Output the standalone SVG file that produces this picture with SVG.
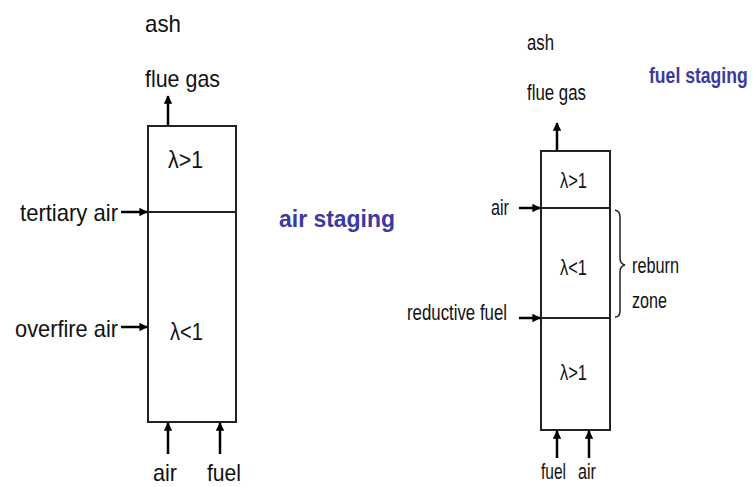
<svg xmlns="http://www.w3.org/2000/svg" width="755" height="487" viewBox="0 0 755 487">
<defs>
<marker id="ah" viewBox="0 0 10 10" refX="9" refY="5" markerWidth="3.4" markerHeight="3.4" orient="auto" markerUnits="strokeWidth">
<path d="M0,0 L10,5 L0,10 z" fill="#000"/>
</marker>
</defs>
<style>
text{font-family:"Liberation Sans",Arial,sans-serif;fill:#111}
.l{font-size:24px}
.r{font-size:22px}
.t{font-size:24px;font-weight:bold;fill:#3a3aa0}
.box{fill:#fff;stroke:#222;stroke-width:2}
.div{stroke:#222;stroke-width:2}
.ar{stroke:#000;stroke-width:2.5;fill:none;marker-end:url(#ah)}
</style>
<rect width="755" height="487" fill="#fff"/>

<g id="left-furnace">
<rect class="box" x="148" y="126" width="88" height="296"/>
<line class="div" x1="148" y1="212" x2="236" y2="212"/>
<text class="l" x="168" y="168" textLength="35" lengthAdjust="spacingAndGlyphs">λ&gt;1</text>
<text class="l" x="170" y="340" textLength="33" lengthAdjust="spacingAndGlyphs">λ&lt;1</text>
</g>
<g id="left-labels">
<text class="l" x="145" y="32" textLength="36" lengthAdjust="spacingAndGlyphs">ash</text>
<text class="l" x="145" y="87" textLength="75" lengthAdjust="spacingAndGlyphs">flue gas</text>
<text class="l" x="20" y="221" textLength="98" lengthAdjust="spacingAndGlyphs">tertiary air</text>
<text class="l" x="15" y="337" textLength="103" lengthAdjust="spacingAndGlyphs">overfire air</text>
<text class="l" x="153" y="481" textLength="24" lengthAdjust="spacingAndGlyphs">air</text>
<text class="l" x="207" y="481" textLength="34" lengthAdjust="spacingAndGlyphs">fuel</text>
<text class="t" x="279" y="227" textLength="116" lengthAdjust="spacingAndGlyphs">air staging</text>
</g>

<g id="right-furnace">
<rect class="box" x="541" y="151" width="69" height="279"/>
<line class="div" x1="541" y1="208" x2="610" y2="208"/>
<line class="div" x1="541" y1="318" x2="610" y2="318"/>
<text class="r" x="560" y="188" textLength="27" lengthAdjust="spacingAndGlyphs">λ&gt;1</text>
<text class="r" x="560" y="275" textLength="27" lengthAdjust="spacingAndGlyphs">λ&lt;1</text>
<text class="r" x="560" y="380" textLength="27" lengthAdjust="spacingAndGlyphs">λ&gt;1</text>
</g>
<g id="right-labels">
<text class="r" x="527" y="50" textLength="27" lengthAdjust="spacingAndGlyphs">ash</text>
<text class="r" x="527" y="100" textLength="59" lengthAdjust="spacingAndGlyphs">flue gas</text>
<text class="r" x="491" y="215" textLength="18" lengthAdjust="spacingAndGlyphs">air</text>
<text class="r" x="407" y="320" textLength="100" lengthAdjust="spacingAndGlyphs">reductive fuel</text>
<text class="r" x="541" y="479" textLength="25" lengthAdjust="spacingAndGlyphs">fuel</text>
<text class="r" x="578" y="479" textLength="18" lengthAdjust="spacingAndGlyphs">air</text>
<text class="t" transform="translate(649,83) scale(0.8,1)" style="font-size:22px">fuel staging</text>
</g>
<g id="reburn-zone">
<path d="M615,210 Q620,211 620,217 L620,258 Q620,264 625,265 Q620,266 620,272 L620,311 Q620,317 615,317" fill="none" stroke="#222" stroke-width="1.5"/>
<text class="r" x="632" y="273" textLength="47" lengthAdjust="spacingAndGlyphs">reburn</text>
<text class="r" x="632" y="308" textLength="35" lengthAdjust="spacingAndGlyphs">zone</text>
</g>

<g id="connectors">
<line class="ar" x1="168" y1="126" x2="168" y2="96"/>
<line class="ar" x1="121" y1="212" x2="147" y2="212"/>
<line class="ar" x1="121" y1="327" x2="147" y2="327"/>
<line class="ar" x1="168" y1="454" x2="168" y2="423"/>
<line class="ar" x1="220" y1="454" x2="220" y2="423"/>
<line class="ar" x1="557" y1="151" x2="557" y2="123"/>
<line class="ar" x1="519" y1="208" x2="540" y2="208"/>
<line class="ar" x1="519" y1="318" x2="540" y2="318"/>
<line class="ar" x1="557" y1="458" x2="557" y2="431"/>
<line class="ar" x1="589" y1="458" x2="589" y2="431"/>
</g>
</svg>
